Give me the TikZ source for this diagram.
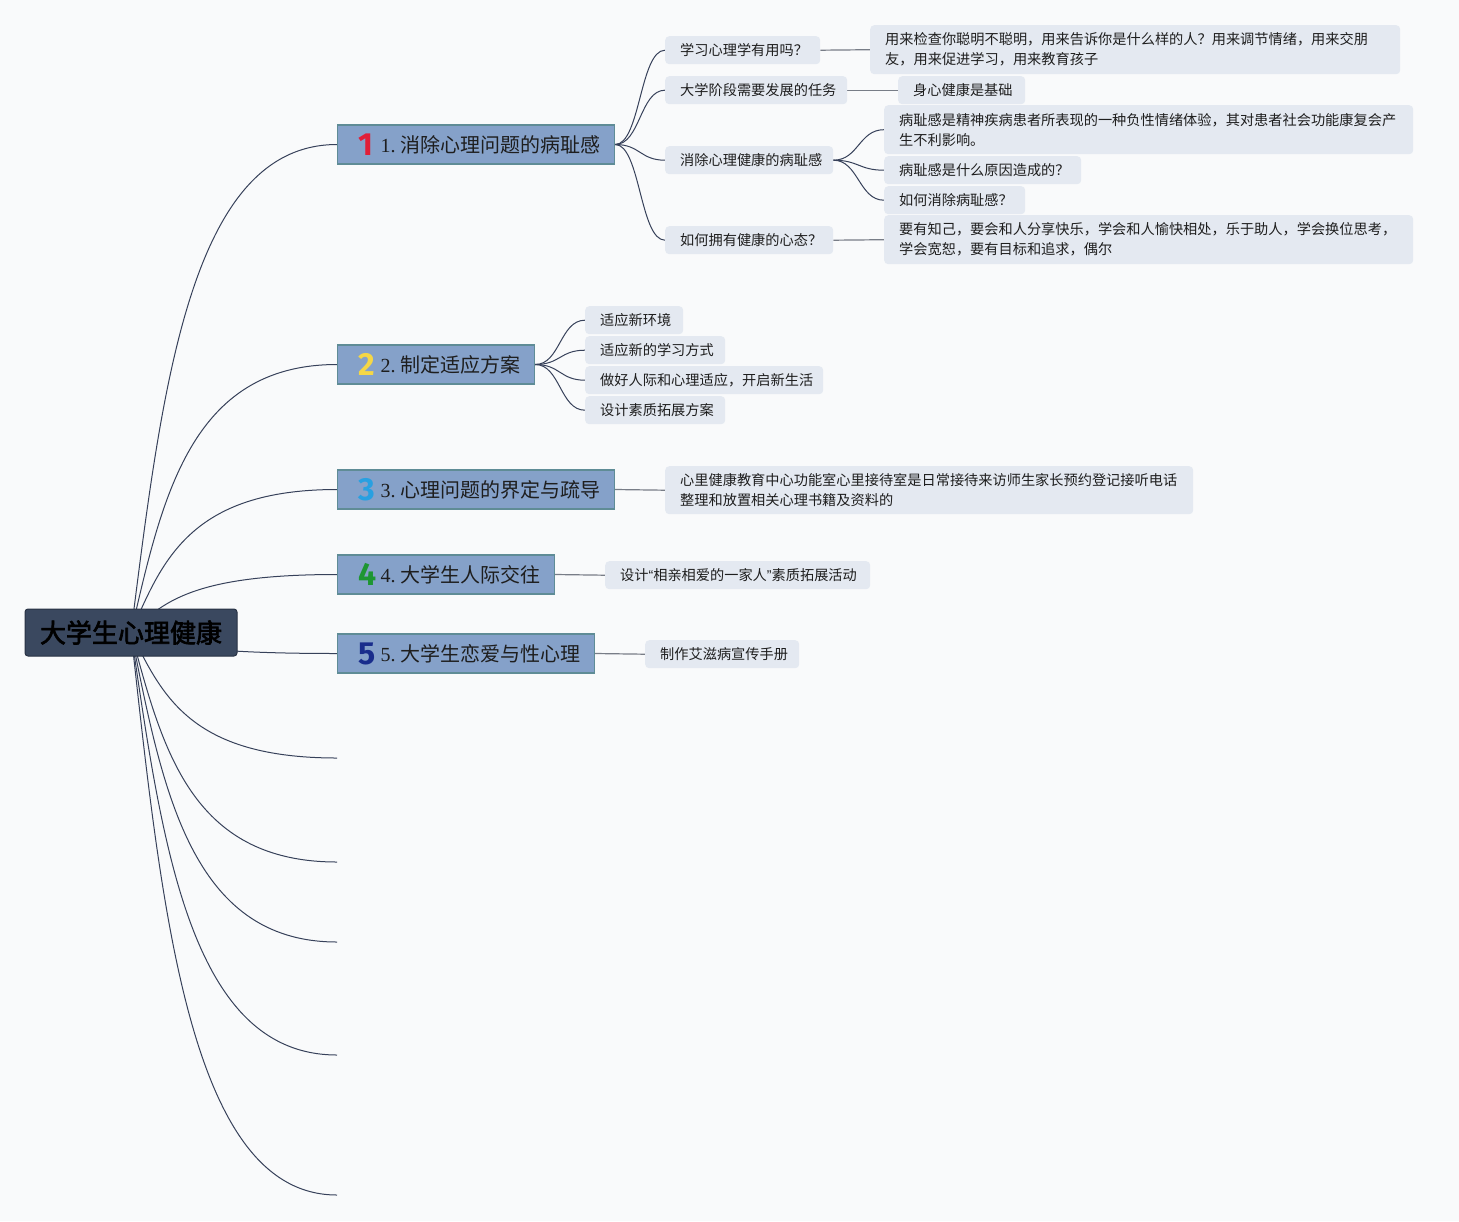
\documentclass[tikz,border=0pt]{standalone}
\usepackage{fontspec}
\setmainfont{Noto Sans CJK SC}
\newfontfamily\cjkf{Noto Sans CJK SC}
\newfontfamily\cjkbf[FakeBold=2.5]{Noto Sans CJK SC}
\newfontfamily\numf{Liberation Serif}
\newfontfamily\iconf{Fira Sans}
\newfontfamily\latf{Liberation Sans}
\usetikzlibrary{calc}
\pgfdeclarelayer{bg}
\pgfsetlayers{bg,main}
\definecolor{bgc}{RGB}{249,250,251}
\definecolor{rootfill}{RGB}{58,72,95}
\definecolor{rootdraw}{RGB}{40,50,68}
\definecolor{branchfill}{RGB}{133,161,201}
\definecolor{branchdraw}{RGB}{95,140,150}
\definecolor{leaffill}{RGB}{228,233,241}
\definecolor{linec}{RGB}{55,65,90}
\definecolor{leafline}{RGB}{120,125,135}
\definecolor{txt}{RGB}{30,30,30}
\definecolor{ic1}{RGB}{225,30,55}
\definecolor{ic2}{RGB}{245,215,70}
\definecolor{ic3}{RGB}{40,160,225}
\definecolor{ic4}{RGB}{30,150,50}
\definecolor{ic5}{RGB}{25,45,140}
\newcommand{\bicon}[2]{\makebox[22pt][l]{\raisebox{-3pt}[0pt][0pt]{\iconf\bfseries\fontsize{32}{32}\selectfont\color{#1}#2}}}
\newcommand{\btext}[4]{\mbox{\bicon{#1}{#2}{\numf #3}\kern5pt #4}}
\tikzset{
  rootbox/.style={fill=rootfill, draw=rootdraw, line width=1pt, rounded corners=3pt,
    minimum width=212pt, minimum height=47pt, inner sep=0pt,
    font=\cjkbf\fontsize{26}{30}\selectfont, text=black},
  branchbox/.style={anchor=west, fill=branchfill, draw=branchdraw, line width=1.2pt,
    minimum height=39pt, inner xsep=21pt, inner ysep=0pt, align=left,
    font=\cjkf\fontsize{20}{24}\selectfont, text=txt},
  leafbox/.style={anchor=north west, fill=leaffill, rounded corners=4pt,
    inner xsep=15pt, inner ysep=0pt, align=left, minimum height=28pt,
    font=\cjkf\fontsize{14.2}{20}\selectfont, text=txt},
  rootline/.style={draw=linec, line width=1pt},
  sline/.style={draw=linec, line width=1pt},
  straightline/.style={draw=leafline, line width=1.2pt},
  scurve/.style={to path={.. controls ($(\tikztostart)+(25,0)$) and ($(\tikztotarget)+(-25,0)$) .. (\tikztotarget)}}
}
\begin{document}
\begin{tikzpicture}[x=1pt,y=-1pt]
\useasboundingbox (0,0) rectangle (1459,1221);
\begin{pgfonlayer}{bg}
\fill[bgc] (0,0) rectangle (1459,1221);
\end{pgfonlayer}

% root
\node[rootbox] (r) at (131,632.5) {大学生心理健康};

% branches
\node[branchbox, minimum width=277pt, text width=235pt] (b1) at (337,144.5) {\btext{ic1}{1}{1.}{消除心理问题的病耻感}};
\node[branchbox, minimum width=197pt, text width=155pt] (b2) at (337,364.5) {\btext{ic2}{2}{2.}{制定适应方案}};
\node[branchbox, minimum width=277pt, text width=235pt] (b3) at (337,489.5) {\btext{ic3}{3}{3.}{心理问题的界定与疏导}};
\node[branchbox, minimum width=217pt, text width=175pt] (b4) at (337,574.5) {\btext{ic4}{4}{4.}{大学生人际交往}};
\node[branchbox, minimum width=257pt, text width=215pt] (b5) at (337,653.5) {\btext{ic5}{5}{5.}{大学生恋爱与性心理}};

% empty branch ends
\coordinate (e1) at (337,758);
\coordinate (e2) at (337,862);
\coordinate (e3) at (337,942);
\coordinate (e4) at (337,1055);
\coordinate (e5) at (337,1195);

% leaves of branch 1
\node[leafbox, minimum width=155pt, text width=125pt] (l11) at (665,36) {学习心理学有用吗？};
\node[leafbox, minimum width=530pt, minimum height=49pt, text width=500pt] (l11a) at (870,25) {用来检查你聪明不聪明，用来告诉你是什么样的人？用来调节情绪，用来交朋\\友，用来促进学习，用来教育孩子};
\node[leafbox, minimum width=182pt, text width=152pt] (l12) at (665,76) {大学阶段需要发展的任务};
\node[leafbox, minimum width=127pt, text width=97pt] (l12a) at (898,76) {身心健康是基础};
\node[leafbox, minimum width=168pt, text width=138pt] (l13) at (665,146) {消除心理健康的病耻感};
\node[leafbox, minimum width=529pt, minimum height=49pt, text width=499pt] (l13a) at (884,105) {病耻感是精神疾病患者所表现的一种负性情绪体验，其对患者社会功能康复会产\\生不利影响。};
\node[leafbox, minimum width=197pt, text width=167pt] (l13b) at (884,156) {病耻感是什么原因造成的？};
\node[leafbox, minimum width=141pt, text width=111pt] (l13c) at (884,186) {如何消除病耻感？};
\node[leafbox, minimum width=168pt, text width=138pt] (l14) at (665,226) {如何拥有健康的心态？};
\node[leafbox, minimum width=529pt, minimum height=49pt, text width=499pt] (l14a) at (884,215) {要有知己，要会和人分享快乐，学会和人愉快相处，乐于助人，学会换位思考，\\学会宽恕，要有目标和追求，偶尔};

% leaves of branch 2
\node[leafbox, minimum width=98pt, text width=68pt] (l21) at (585,306) {适应新环境};
\node[leafbox, minimum width=140pt, text width=110pt] (l22) at (585,336) {适应新的学习方式};
\node[leafbox, minimum width=238pt, text width=208pt] (l23) at (585,366) {做好人际和心理适应，开启新生活};
\node[leafbox, minimum width=140pt, text width=110pt] (l24) at (585,396) {设计素质拓展方案};

% leaves of branches 3-5
\node[leafbox, minimum width=528pt, minimum height=48pt, text width=498pt] (l31) at (665,466) {心里健康教育中心功能室心里接待室是日常接待来访师生家长预约登记接听电话\\整理和放置相关心理书籍及资料的};
\node[leafbox, minimum width=265pt, text width=235pt] (l41) at (605,561) {设计{\latf “}相亲相爱的一家人{\latf ”}素质拓展活动};
\node[leafbox, minimum width=154pt, text width=124pt] (l51) at (645,640) {制作艾滋病宣传手册};

\begin{pgfonlayer}{bg}
% root connectors
\draw[rootline] (r.center) .. controls (162,388.5) and (190,144.5) .. (b1.west);
\draw[rootline] (r.center) .. controls (162,498.5) and (190,364.5) .. (b2.west);
\draw[rootline] (r.center) .. controls (162,561) and (190,489.5) .. (b3.west);
\draw[rootline] (r.center) .. controls (162,603.5) and (190,574.5) .. (b4.west);
\draw[rootline] (r.center) .. controls (162,643) and (190,653.5) .. (b5.west);
\draw[rootline] (r.center) .. controls (162,695) and (190,758) .. (e1);
\draw[rootline] (r.center) .. controls (162,747) and (190,862) .. (e2);
\draw[rootline] (r.center) .. controls (162,787) and (190,942) .. (e3);
\draw[rootline] (r.center) .. controls (162,843.5) and (190,1055) .. (e4);
\draw[rootline] (r.center) .. controls (162,913.5) and (190,1195) .. (e5);
% branch 1
\draw[sline] (b1.east) to[scurve] (l11.west);
\draw[sline] (b1.east) to[scurve] (l12.west);
\draw[sline] (b1.east) to[scurve] (l13.west);
\draw[sline] (b1.east) to[scurve] (l14.west);
\draw[straightline] (l11.east) -- (l11a.west);
\draw[straightline] (l12.east) -- (l12a.west);
\draw[sline] (l13.east) to[scurve] (l13a.west);
\draw[sline] (l13.east) to[scurve] (l13b.west);
\draw[sline] (l13.east) to[scurve] (l13c.west);
\draw[straightline] (l14.east) -- (l14a.west);
% branch 2
\draw[sline] (b2.east) to[scurve] (l21.west);
\draw[sline] (b2.east) to[scurve] (l22.west);
\draw[sline] (b2.east) to[scurve] (l23.west);
\draw[sline] (b2.east) to[scurve] (l24.west);
% branches 3-5
\draw[straightline] (b3.east) -- (l31.west);
\draw[straightline] (b4.east) -- (l41.west);
\draw[straightline] (b5.east) -- (l51.west);
\end{pgfonlayer}
\end{tikzpicture}
\end{document}
